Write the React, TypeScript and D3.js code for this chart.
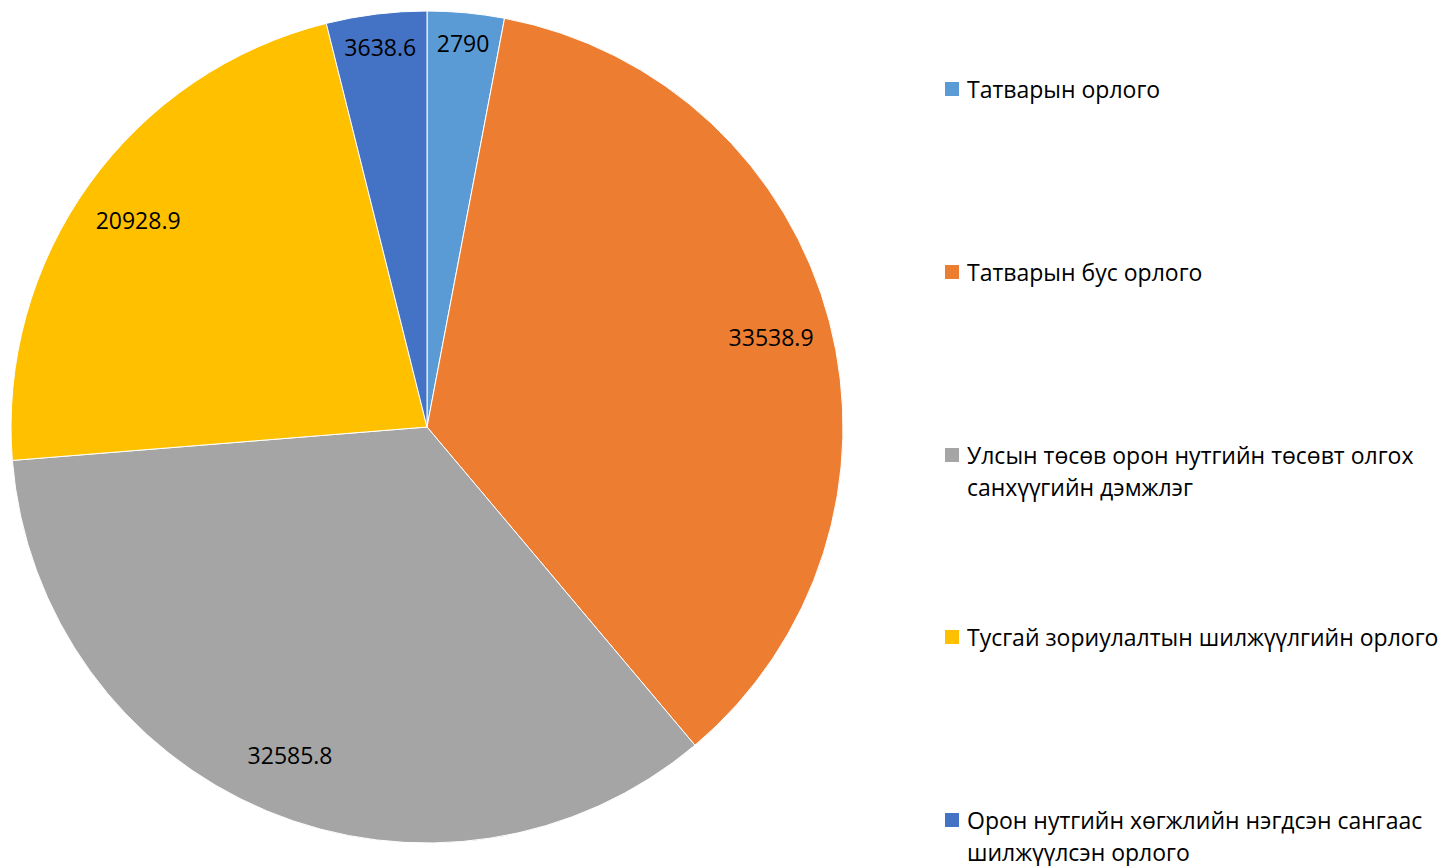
import React from "react";
import * as d3 from "d3";

const categories: string[][] = [
  ["Татварын орлого"],
  ["Татварын бус орлого"],
  ["Улсын төсөв орон нутгийн төсөвт олгох", "санхүүгийн дэмжлэг"],
  ["Тусгай зориулалтын шилжүүлгийн орлого"],
  ["Орон нутгийн хөгжлийн нэгдсэн сангаас", "шилжүүлсэн орлого"],
];
const values: number[] = [2790, 33538.9, 32585.8, 20928.9, 3638.6];
const valueLabels: string[] = ["2790", "33538.9", "32585.8", "20928.9", "3638.6"];
const colors: string[] = ["#5B9BD5", "#ED7D31", "#A5A5A5", "#FFC000", "#4472C4"];

const W = 1445;
const H = 866;
const CX = 427;
const CY = 427;
const R = 416;
const FONT = "'Open Sans', 'Noto Sans', sans-serif";
const LABEL_SIZE = 23;
const LEGEND_SIZE = 23;

function measure(text: string, size: number): number {
  const c = document.createElement("canvas").getContext("2d");
  if (!c) return text.length * size * 0.55;
  c.font = `${size}px ${FONT}`;
  return c.measureText(text).width;
}

export default function App() {
  const pie = d3.pie<number>().sort(null).value((d) => d)(values);
  const arc = d3.arc<d3.PieArcDatum<number>>().innerRadius(0).outerRadius(R);

  const legendY = [89, 272, 455, 637, 820];
  const lineH = 32;

  return (
    <svg
      width={W}
      height={H}
      style={{ position: "absolute", left: 0, top: 0, background: "#fff" }}
      fontFamily={FONT}
    >
      <g transform={`translate(${CX},${CY})`}>
        {pie.map((p, i) => (
          <path key={i} d={arc(p) || ""} fill={colors[i]} stroke="#fff" strokeWidth={1} />
        ))}
        {pie.map((p, i) => {
          const mid = (p.startAngle + p.endAngle) / 2;
          const s = Math.sin(mid);
          const c = -Math.cos(mid);
          let d = R * 0.855;
          if (p.endAngle - p.startAngle < (20 * Math.PI) / 180) {
            const a = measure(valueLabels[i], LABEL_SIZE) / 2;
            const b = 12;
            const Rr = R - 15;
            const pp = a * Math.abs(s) + b * Math.abs(c);
            d = -pp + Math.sqrt(pp * pp - (a * a + b * b - Rr * Rr));
          }
          return (
            <text
              key={i}
              x={d * s}
              y={d * c}
              textAnchor="middle"
              dominantBaseline="central"
              fontSize={LABEL_SIZE}
              fill="#000"
            >
              {valueLabels[i]}
            </text>
          );
        })}
      </g>
      <g>
        {categories.map((lines, i) => (
          <g key={i}>
            <rect x={945} y={legendY[i] - 7} width={14} height={14} fill={colors[i]} />
            <text x={967} y={legendY[i]} fontSize={LEGEND_SIZE} fill="#000" dominantBaseline="central">
              {lines.map((ln, j) => (
                <tspan key={j} x={967} dy={j === 0 ? 0 : lineH}>
                  {ln}
                </tspan>
              ))}
            </text>
          </g>
        ))}
      </g>
    </svg>
  );
}
